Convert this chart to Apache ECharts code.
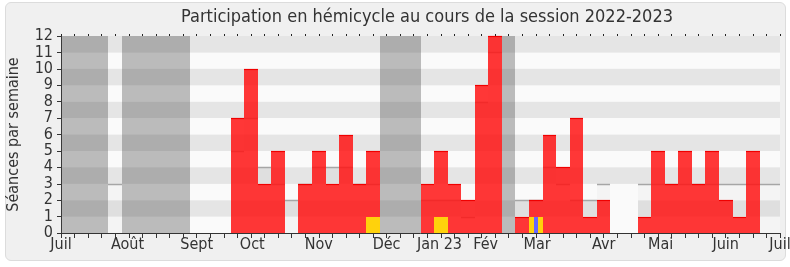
<!DOCTYPE html>
<html><head><meta charset="utf-8">
<script src="https://cdn.jsdelivr.net/npm/echarts@6/dist/echarts.min.js"></script>
<style>
html,body{margin:0;padding:0;background:#fff;}
#panel{position:absolute;left:5px;top:2px;width:779px;height:257px;background:#f0f0f0;border:1px solid #dcdcdc;border-radius:6px;}
#chart{position:absolute;left:0;top:0;width:790px;height:267px;}
</style></head><body>
<div id="panel"></div><div id="chart"></div>
<script>
const FONT = "'DejaVu Sans Condensed','DejaVu Sans',sans-serif";
const titleText = 'Participation en hémicycle au cours de la session 2022-2023';
const yName = 'Séances par semaine';
const monthLabels = ['Juil','Août','Sept','Oct','Nov','Déc','Jan 23','Fév','Mar','Avr','Mai','Juin','Juil'];
const monthWeeks = [0,4.9,10,14.1,19,24,27.9,31.3,35.1,40,44.2,49,53];
const vacationWeeks = [0,1,2,3,5,6,7,8,9,24,25,26,33];
const blankWeeks = [41,42];
const blankHeights = [3,3];
// présences par semaine (index = semaine 0..53)
const presences = [0,0,0,0,0,0,0,0,0,0,0,0,0,7,10,3,5,0,3,5,3,6,3,5,0,0,0,3,5,3,2,9,12,0,1,2,6,4,7,1,2,0,0,1,5,3,5,3,5,2,1,5,0,0];
// présence médiane par semaine
const medians = [0,0,0,0,3,0,0,0,0,0,0,0,0,5,7,4,3,2,3,4,4,4,3,3,0,0,0,2,2,2,1,8,11,0,2,2,4,3,2,2,3,0,0,3,3,3,3,3,3,3,3,3,3,3];
const interventionWeeks = [23,28,35];
const interventions = [1,1,1];
const questionWeeks = [35];
const questions = [1];

function pairs(weeks, vals){ return weeks.map((w,i)=>[w, vals[i]]); }
function nonZero(arr){ return arr.map((v,k)=>[k,v]).filter(d=>d[1]>0); }

function barRenderer(o){
  return function(params, api){
    const k = api.value(0), v = api.value(1);
    const w = o.width || 1;
    const p0 = api.coord([k - w/2, 0]);
    const p1 = api.coord([k + w/2, v]);
    const x0 = Math.round(p0[0]), x1 = Math.round(p1[0]);
    const y0 = Math.round(p0[1]), y1 = Math.round(p1[1]);
    const cs = params.coordSys;
    const rect = echarts.graphic.clipRectByRect(
      {x:x0, y:y1, width:x1-x0, height:y0-y1},
      {x:cs.x, y:cs.y, width:cs.width, height:cs.height});
    if(!rect) return;
    const children = [{type:'rect', shape:rect, style:{fill:o.fill}}];
    if(o.line){
      children.push({type:'line', shape:{x1:rect.x, y1:rect.y+0.5, x2:rect.x+rect.width, y2:rect.y+0.5},
        style:{stroke:o.line, lineWidth:o.lw||1}});
    }
    return {type:'group', children};
  };
}

const chart = echarts.init(document.getElementById('chart'), null, {renderer:'canvas'});
chart.setOption({
  animation:false,
  backgroundColor:'transparent',
  title:{text:titleText, left:427, top:8, padding:0, textAlign:'center',
    textStyle:{fontFamily:FONT, fontSize:18, fontWeight:'normal', color:'#333'}},
  grid:{left:61, right:10, top:36, bottom:34, containLabel:false, outerBoundsMode:'none'},
  xAxis:[
    {type:'value', min:0, max:53, interval:1, position:'bottom',
     axisLine:{show:true, onZero:false, lineStyle:{color:'#333'}},
     axisTick:{show:true, length:5, lineStyle:{color:'#333'}},
     axisLabel:{customValues:monthWeeks, margin:4, fontFamily:FONT, fontSize:16, color:'#333',
       formatter:function(v){ const i = monthWeeks.findIndex(m=>Math.abs(m-v)<0.05); return i>=0?monthLabels[i]:''; }},
     splitLine:{show:false}},
    {type:'value', min:0, max:53, interval:1, position:'top',
     axisLine:{show:false, onZero:false},
     axisTick:{show:true, length:2, lineStyle:{color:'#222'}},
     axisLabel:{show:false}, splitLine:{show:false}}
  ],
  yAxis:{type:'value', min:0, max:12, interval:1,
    axisLine:{show:true, onZero:false, lineStyle:{color:'#333'}},
    axisTick:{show:true, length:4, lineStyle:{color:'#333'}},
    axisLabel:{fontFamily:FONT, fontSize:16, color:'#333', margin:8},
    splitLine:{show:false},
    splitArea:{show:true, areaStyle:{color:['#fafafa','#e5e5e5']}},
    name:yName, nameLocation:'middle', nameGap:39,
    nameTextStyle:{fontFamily:FONT, fontSize:16, color:'#333'}},
  series:[
    {type:'custom', name:'Vacances', xAxisIndex:0, yAxisIndex:0,
     data:vacationWeeks.map(w=>[w,12]), renderItem:barRenderer({fill:'rgba(70,70,70,0.35)'})},
    {type:'custom', name:'Semaines blanches', xAxisIndex:0, yAxisIndex:0,
     data:pairs(blankWeeks, blankHeights), renderItem:barRenderer({fill:'#fafafa'})},
    {type:'custom', name:'Présence médiane', xAxisIndex:0, yAxisIndex:0,
     data:nonZero(medians), renderItem:barRenderer({fill:'rgba(0,0,0,0.025)', line:'#a6a6a6', lw:1.5})},
    {type:'custom', name:'Présences', xAxisIndex:0, yAxisIndex:0,
     data:nonZero(presences), renderItem:barRenderer({fill:'rgba(255,20,20,0.85)', line:'#f00000', lw:1.2})},
    {type:'custom', name:'Interventions', xAxisIndex:0, yAxisIndex:0,
     data:pairs(interventionWeeks, interventions), renderItem:barRenderer({fill:'#ffd20c'})},
    {type:'custom', name:'Questions orales', xAxisIndex:0, yAxisIndex:0,
     data:pairs(questionWeeks, questions), renderItem:barRenderer({fill:'#6666ff', width:0.3})}
  ]
});
</script>
</body></html>
